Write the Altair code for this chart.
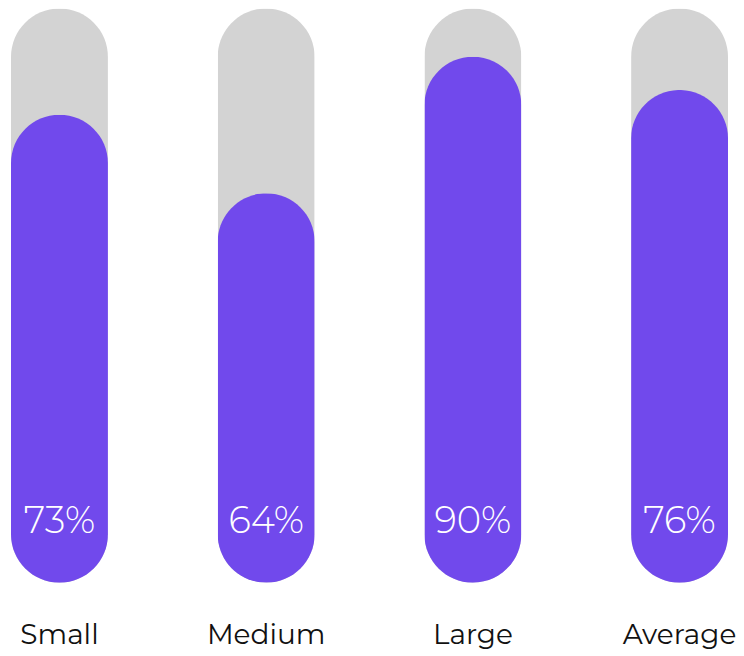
import altair as alt
import pandas as pd

categories = ["Small", "Medium", "Large", "Average"]
labels = ["73%", "64%", "90%", "76%"]
# filled length of each bar as drawn (share of the full track)
fill = [81.5, 67.8, 91.6, 85.8]
track = [100, 100, 100, 100]

df = pd.DataFrame({"cat": categories, "label": labels, "fill": fill, "track": track})

x = alt.X("cat:N", sort=categories,
          scale=alt.Scale(paddingInner=0.531, paddingOuter=0.0145),
          axis=alt.Axis(title=None, domain=False, ticks=False, labelAngle=0,
                        labelFontSize=28, labelFont="Montserrat, Lato, Open Sans",
                        labelColor="#111111", labelPadding=39))
yscale = alt.Scale(domain=[0, 100], nice=False, zero=True)

base = alt.Chart(df)

bg = base.mark_bar(color="#D3D3D3", cornerRadius=48.5).encode(
    x=x, y=alt.Y("track:Q", scale=yscale, axis=None))
fg = base.mark_bar(color="#7149EC", cornerRadius=48.5).encode(
    x=x, y=alt.Y("fill:Q", scale=yscale, axis=None))
txt = base.mark_text(color="white", fontSize=37, font="Montserrat, Lato, Open Sans",
                     fontWeight=300, baseline="middle", dy=-61).encode(
    x=x, y=alt.Y(datum=0, scale=yscale), text="label:N")

chart = (bg + fg + txt).properties(
    width=724, height=575, padding=0
).configure_view(stroke=None)

chart.save("out.html", embed_options={"renderer": "svg", "actions": False})
